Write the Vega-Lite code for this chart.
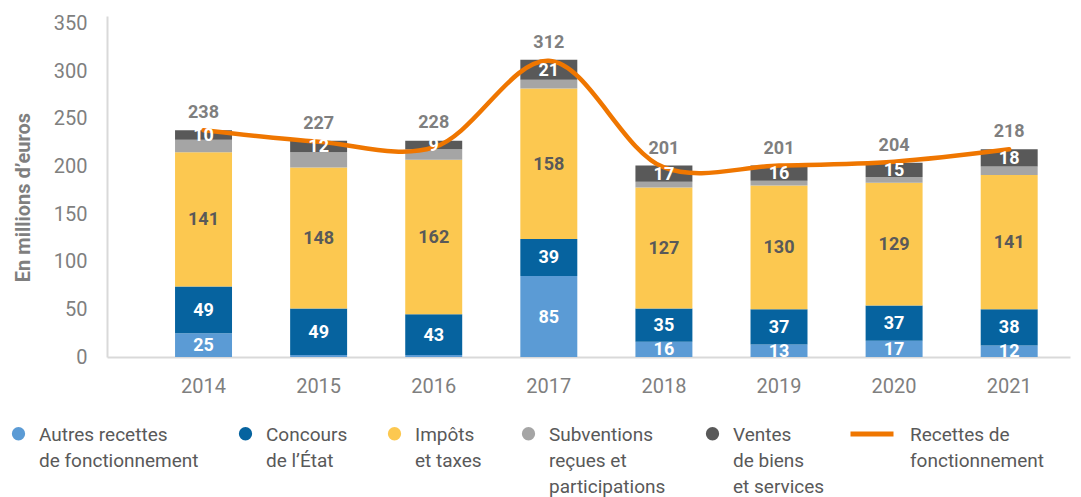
{
  "$schema": "https://vega.github.io/schema/vega-lite/v6.json",
  "autosize": {"type": "none"},
  "width": 963,
  "height": 341,
  "padding": {"left": 107, "top": 16, "right": 11, "bottom": 140},
  "background": "white",
  "config": {"view": {"stroke": null}, "font": "Roboto"},
  "datasets": {
    "bars": [
      {"year": "2014", "cat": "Autres recettes de fonctionnement", "value": 25},
      {"year": "2014", "cat": "Concours de l’État", "value": 49},
      {"year": "2014", "cat": "Impôts et taxes", "value": 141},
      {"year": "2014", "cat": "Subventions reçues et participations", "value": 13},
      {"year": "2014", "cat": "Ventes de biens et services", "value": 10},
      {"year": "2015", "cat": "Autres recettes de fonctionnement", "value": 2},
      {"year": "2015", "cat": "Concours de l’État", "value": 49},
      {"year": "2015", "cat": "Impôts et taxes", "value": 148},
      {"year": "2015", "cat": "Subventions reçues et participations", "value": 16},
      {"year": "2015", "cat": "Ventes de biens et services", "value": 12},
      {"year": "2016", "cat": "Autres recettes de fonctionnement", "value": 2},
      {"year": "2016", "cat": "Concours de l’État", "value": 43},
      {"year": "2016", "cat": "Impôts et taxes", "value": 162},
      {"year": "2016", "cat": "Subventions reçues et participations", "value": 11},
      {"year": "2016", "cat": "Ventes de biens et services", "value": 9},
      {"year": "2017", "cat": "Autres recettes de fonctionnement", "value": 85},
      {"year": "2017", "cat": "Concours de l’État", "value": 39},
      {"year": "2017", "cat": "Impôts et taxes", "value": 158},
      {"year": "2017", "cat": "Subventions reçues et participations", "value": 9},
      {"year": "2017", "cat": "Ventes de biens et services", "value": 21},
      {"year": "2018", "cat": "Autres recettes de fonctionnement", "value": 16},
      {"year": "2018", "cat": "Concours de l’État", "value": 35},
      {"year": "2018", "cat": "Impôts et taxes", "value": 127},
      {"year": "2018", "cat": "Subventions reçues et participations", "value": 6},
      {"year": "2018", "cat": "Ventes de biens et services", "value": 17},
      {"year": "2019", "cat": "Autres recettes de fonctionnement", "value": 13},
      {"year": "2019", "cat": "Concours de l’État", "value": 37},
      {"year": "2019", "cat": "Impôts et taxes", "value": 130},
      {"year": "2019", "cat": "Subventions reçues et participations", "value": 5},
      {"year": "2019", "cat": "Ventes de biens et services", "value": 16},
      {"year": "2020", "cat": "Autres recettes de fonctionnement", "value": 17},
      {"year": "2020", "cat": "Concours de l’État", "value": 37},
      {"year": "2020", "cat": "Impôts et taxes", "value": 129},
      {"year": "2020", "cat": "Subventions reçues et participations", "value": 6},
      {"year": "2020", "cat": "Ventes de biens et services", "value": 15},
      {"year": "2021", "cat": "Autres recettes de fonctionnement", "value": 12},
      {"year": "2021", "cat": "Concours de l’État", "value": 38},
      {"year": "2021", "cat": "Impôts et taxes", "value": 141},
      {"year": "2021", "cat": "Subventions reçues et participations", "value": 9},
      {"year": "2021", "cat": "Ventes de biens et services", "value": 18}
    ],
    "totals": [
      {"year": "2014", "total": 238},
      {"year": "2015", "total": 227},
      {"year": "2016", "total": 228},
      {"year": "2017", "total": 312},
      {"year": "2018", "total": 201},
      {"year": "2019", "total": 201},
      {"year": "2020", "total": 204},
      {"year": "2021", "total": 218}
    ],
    "line": [
      {"year": "2014", "serie": "Recettes de fonctionnement", "value": 238},
      {"year": "2015", "serie": "Recettes de fonctionnement", "value": 226},
      {"year": "2016", "serie": "Recettes de fonctionnement", "value": 220},
      {"year": "2017", "serie": "Recettes de fonctionnement", "value": 311},
      {"year": "2018", "serie": "Recettes de fonctionnement", "value": 199},
      {"year": "2019", "serie": "Recettes de fonctionnement", "value": 201},
      {"year": "2020", "serie": "Recettes de fonctionnement", "value": 205},
      {"year": "2021", "serie": "Recettes de fonctionnement", "value": 218}
    ]
  },
  "layer": [
    {
      "data": {"name": "bars"},
      "transform": [
        {"stack": "value", "groupby": ["year"], "sort": [{"field": "cat", "order": "ascending"}], "as": ["y0", "y1"]}
      ],
      "mark": {"type": "bar"},
      "encoding": {
        "x": {
          "field": "year", "type": "ordinal",
          "scale": {"paddingInner": 0.505, "paddingOuter": 0.436, "align": 0.678},
          "axis": {
            "title": null, "labelAngle": 0, "ticks": false, "labelPadding": 19,
            "labelFont": "Roboto", "labelFontSize": 20, "labelColor": "#7f7f7f",
            "domainColor": "#d9d9d9", "domainWidth": 2
          }
        },
        "y": {
          "field": "y1", "type": "quantitative",
          "scale": {"domain": [0, 358], "nice": false},
          "axis": {
            "title": "En millions d’euros", "values": [0, 50, 100, 150, 200, 250, 300, 350],
            "grid": false, "ticks": false, "labelPadding": 20,
            "labelFont": "Roboto", "labelFontSize": 20, "labelColor": "#7f7f7f",
            "domainColor": "#d9d9d9", "domainWidth": 2,
            "titleFont": "Roboto", "titleFontSize": 20, "titleFontWeight": "bold", "titleColor": "#7f7f7f",
            "titlePadding": 20, "titleY": 181
          }
        },
        "y2": {"field": "y0"},
        "color": {
          "field": "cat", "type": "nominal",
          "scale": {
            "domain": ["Autres recettes de fonctionnement", "Concours de l’État", "Impôts et taxes", "Subventions reçues et participations", "Ventes de biens et services"],
            "range": ["#5b9bd5", "#06639f", "#fcc850", "#a5a5a5", "#595959"]
          },
          "legend": {
            "orient": "none", "legendX": -98, "legendY": 408,
            "direction": "horizontal", "columns": 5, "title": null,
            "symbolType": "circle", "symbolSize": 177, "symbolStrokeWidth": 0,
            "labelFont": "Roboto", "labelFontSize": 19, "labelColor": "#595959",
            "labelOffset": 11, "columnPadding": 37, "labelLimit": 300, "labelBaseline": "top",
            "labelExpr": "datum.label == 'Autres recettes de fonctionnement' ? ['Autres recettes', 'de fonctionnement', ''] : datum.label == 'Concours de l’État' ? ['Concours', 'de l’État', ''] : datum.label == 'Impôts et taxes' ? ['Impôts', 'et taxes', ''] : datum.label == 'Subventions reçues et participations' ? ['Subventions', 'reçues et', 'participations'] : ['Ventes', 'de biens', 'et services']",
            "encode": {"labels": {"update": {"lineHeight": {"value": 26}, "dy": {"value": -8}}}}
          }
        }
      }
    },
    {
      "data": {"name": "line"},
      "mark": {"type": "line", "interpolate": "catmull-rom", "strokeWidth": 4.5, "strokeCap": "round"},
      "encoding": {
        "x": {"field": "year", "type": "ordinal"},
        "y": {"field": "value", "type": "quantitative"},
        "stroke": {
          "field": "serie", "type": "nominal",
          "scale": {"range": ["#ef7600"]},
          "legend": {
            "orient": "none", "legendX": 741, "legendY": 394, "title": null,
            "symbolType": "stroke", "symbolSize": 1849, "symbolStrokeWidth": 5,
            "labelFont": "Roboto", "labelFontSize": 19, "labelColor": "#595959",
            "labelOffset": 14, "labelLimit": 300, "labelBaseline": "top",
            "labelExpr": "['Recettes de', 'fonctionnement']",
            "encode": {"labels": {"update": {"lineHeight": {"value": 26}, "dy": {"value": -8}}}}
          }
        }
      }
    },
    {
      "data": {"name": "bars"},
      "transform": [
        {"stack": "value", "groupby": ["year"], "sort": [{"field": "cat", "order": "ascending"}], "as": ["y0", "y1"]},
        {"calculate": "(datum.y0 + datum.y1) / 2", "as": "mid"},
        {"filter": "datum.cat != 'Subventions reçues et participations' && datum.value >= 5"}
      ],
      "mark": {"type": "text", "font": "Roboto", "fontSize": 18, "fontWeight": "bold", "baseline": "middle", "dy": 1},
      "encoding": {
        "x": {"field": "year", "type": "ordinal"},
        "y": {"field": "mid", "type": "quantitative"},
        "text": {"field": "value", "type": "quantitative"},
        "color": {"condition": {"test": "datum.cat == 'Impôts et taxes'", "value": "#595959"}, "value": "#ffffff"}
      }
    },
    {
      "data": {"name": "totals"},
      "mark": {"type": "text", "font": "Roboto", "fontSize": 18, "fontWeight": "bold", "baseline": "middle", "dy": -17, "color": "#7f7f7f"},
      "encoding": {
        "x": {"field": "year", "type": "ordinal"},
        "y": {"field": "total", "type": "quantitative"},
        "text": {"field": "total", "type": "quantitative"}
      }
    }
  ]
}
